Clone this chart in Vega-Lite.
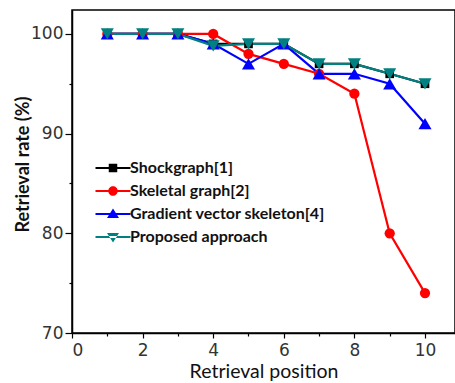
{
  "$schema": "https://vega.github.io/schema/vega-lite/v6.json",
  "width": 383,
  "height": 323,
  "autosize": {"type": "none"},
  "padding": {"left": 72, "top": 10, "right": 0, "bottom": 50},
  "background": "white",
  "config": {
    "view": {"stroke": "black", "strokeWidth": 1.5},
    "axis": {
      "domainColor": "black",
      "domainWidth": 1.5,
      "tickColor": "black",
      "tickWidth": 1.2,
      "grid": false,
      "labelFont": "DejaVu Sans",
      "labelFontSize": 17,
      "labelColor": "#333",
      "titleColor": "#111",
      "titleFont": "Lato"
    }
  },
  "data": {
    "values": [
      {"pos": 1, "rate": 100, "series": "Shockgraph[1]"},
      {"pos": 2, "rate": 100, "series": "Shockgraph[1]"},
      {"pos": 3, "rate": 100, "series": "Shockgraph[1]"},
      {"pos": 4, "rate": 99, "series": "Shockgraph[1]"},
      {"pos": 5, "rate": 99, "series": "Shockgraph[1]"},
      {"pos": 6, "rate": 99, "series": "Shockgraph[1]"},
      {"pos": 7, "rate": 97, "series": "Shockgraph[1]"},
      {"pos": 8, "rate": 97, "series": "Shockgraph[1]"},
      {"pos": 9, "rate": 96, "series": "Shockgraph[1]"},
      {"pos": 10, "rate": 95, "series": "Shockgraph[1]"},
      {"pos": 1, "rate": 100, "series": "Skeletal graph[2]"},
      {"pos": 2, "rate": 100, "series": "Skeletal graph[2]"},
      {"pos": 3, "rate": 100, "series": "Skeletal graph[2]"},
      {"pos": 4, "rate": 100, "series": "Skeletal graph[2]"},
      {"pos": 5, "rate": 98, "series": "Skeletal graph[2]"},
      {"pos": 6, "rate": 97, "series": "Skeletal graph[2]"},
      {"pos": 7, "rate": 96, "series": "Skeletal graph[2]"},
      {"pos": 8, "rate": 94, "series": "Skeletal graph[2]"},
      {"pos": 9, "rate": 80, "series": "Skeletal graph[2]"},
      {"pos": 10, "rate": 74, "series": "Skeletal graph[2]"},
      {"pos": 1, "rate": 100, "series": "Gradient vector skeleton[4]"},
      {"pos": 2, "rate": 100, "series": "Gradient vector skeleton[4]"},
      {"pos": 3, "rate": 100, "series": "Gradient vector skeleton[4]"},
      {"pos": 4, "rate": 99, "series": "Gradient vector skeleton[4]"},
      {"pos": 5, "rate": 97, "series": "Gradient vector skeleton[4]"},
      {"pos": 6, "rate": 99, "series": "Gradient vector skeleton[4]"},
      {"pos": 7, "rate": 96, "series": "Gradient vector skeleton[4]"},
      {"pos": 8, "rate": 96, "series": "Gradient vector skeleton[4]"},
      {"pos": 9, "rate": 95, "series": "Gradient vector skeleton[4]"},
      {"pos": 10, "rate": 91, "series": "Gradient vector skeleton[4]"},
      {"pos": 1, "rate": 100, "series": "Proposed approach"},
      {"pos": 2, "rate": 100, "series": "Proposed approach"},
      {"pos": 3, "rate": 100, "series": "Proposed approach"},
      {"pos": 4, "rate": 98.8, "series": "Proposed approach"},
      {"pos": 5, "rate": 99, "series": "Proposed approach"},
      {"pos": 6, "rate": 99, "series": "Proposed approach"},
      {"pos": 7, "rate": 97, "series": "Proposed approach"},
      {"pos": 8, "rate": 97, "series": "Proposed approach"},
      {"pos": 9, "rate": 96, "series": "Proposed approach"},
      {"pos": 10, "rate": 95, "series": "Proposed approach"}
    ]
  },
  "encoding": {
    "x": {
      "field": "pos",
      "type": "quantitative",
      "scale": {"domain": [0, 10.85], "nice": false},
      "axis": {
        "title": "Retrieval position",
        "titleFontSize": 19.5,
        "titleFontWeight": "normal",
        "titlePadding": 4,
        "values": [0, 1, 2, 3, 4, 5, 6, 7, 8, 9, 10],
        "labelExpr": "datum.value % 2 == 0 ? datum.label : ''",
        "tickSize": {"condition": {"test": "datum.value % 2 == 1", "value": 3}, "value": 5},
        "labelPadding": 4
      }
    },
    "y": {
      "field": "rate",
      "type": "quantitative",
      "scale": {"domain": [70, 102.4], "nice": false, "zero": false},
      "axis": {
        "title": "Retrieval rate (%)",
        "titleFontSize": 18,
        "titleFontWeight": "bold",
        "titleX": -40,
        "titleY": 154,
        "values": [70, 75, 80, 85, 90, 95, 100],
        "labelExpr": "datum.value % 10 == 0 ? datum.label : ''",
        "tickSize": {"condition": {"test": "datum.value % 10 != 0", "value": 3}, "value": 7},
        "labelPadding": 2
      }
    }
  },
  "layer": [
    {
      "mark": {"type": "line", "strokeWidth": 2.2},
      "encoding": {
        "color": {
          "field": "series",
          "type": "nominal",
          "scale": {
            "domain": ["Shockgraph[1]", "Skeletal graph[2]", "Gradient vector skeleton[4]", "Proposed approach"],
            "range": ["#000000", "#ff0000", "#0000ff", "#008080"]
          },
          "legend": null
        }
      }
    },
    {
      "transform": [{"filter": "datum.series == 'Shockgraph[1]'"}],
      "mark": {"type": "point", "filled": true, "opacity": 1, "shape": "square", "size": 75, "color": "#000000"}
    },
    {
      "transform": [{"filter": "datum.series == 'Skeletal graph[2]'"}],
      "mark": {"type": "point", "filled": true, "opacity": 1, "shape": "circle", "size": 105, "color": "#ff0000"}
    },
    {
      "transform": [{"filter": "datum.series == 'Gradient vector skeleton[4]'"}],
      "mark": {"type": "point", "filled": true, "opacity": 1, "shape": "triangle-up", "size": 170, "color": "#0000ff"}
    },
    {
      "transform": [{"filter": "datum.series == 'Proposed approach'"}],
      "mark": {"type": "point", "filled": true, "opacity": 1, "shape": "triangle-down", "size": 170, "color": "#008080"}
    },
    {
      "transform": [{"filter": "false"}],
      "mark": {"type": "point", "filled": true, "opacity": 1},
      "encoding": {
        "color": {
          "field": "series",
          "type": "nominal",
          "scale": {
            "domain": ["Shockgraph[1]", "Skeletal graph[2]", "Gradient vector skeleton[4]", "Proposed approach"],
            "range": ["#000000", "#ff0000", "#0000ff", "#008080"]
          },
          "legend": {
            "title": null,
            "orient": "none",
            "legendX": 33,
            "legendY": 150,
            "padding": 0,
            "symbolSize": 100,
            "symbolOpacity": 1,
            "symbolStrokeWidth": 0,
            "labelFont": "Lato",
            "labelFontWeight": "bold",
            "labelFontSize": 16,
            "labelColor": "#111",
            "labelOffset": 9,
            "labelLimit": 400,
            "rowPadding": 7
          }
        },
        "shape": {
          "field": "series",
          "type": "nominal",
          "scale": {
            "domain": ["Shockgraph[1]", "Skeletal graph[2]", "Gradient vector skeleton[4]", "Proposed approach"],
            "range": [
              "M-3.5,-0.2H3.5V0.2H-3.5Z M-0.85,-0.85H0.85V0.85H-0.85Z",
              "M-3.5,-0.2H3.5V0.2H-3.5Z M0.95,0A0.95,0.95 0 1,1 -0.95,0A0.95,0.95 0 1,1 0.95,0Z",
              "M-3.5,-0.2H3.5V0.2H-3.5Z M0,-1.1L1.2,0.8H-1.2Z",
              "M-3.5,-0.2H3.5V0.2H-3.5Z M0,1.1L1.2,-0.8H-1.2Z"
            ]
          },
          "legend": {
            "title": null,
            "orient": "none",
            "legendX": 33,
            "legendY": 150,
            "padding": 0,
            "symbolSize": 100,
            "symbolOpacity": 1,
            "symbolStrokeWidth": 0,
            "labelFont": "Lato",
            "labelFontWeight": "bold",
            "labelFontSize": 16,
            "labelColor": "#111",
            "labelOffset": 9,
            "labelLimit": 400,
            "rowPadding": 7
          }
        }
      }
    }
  ],
  "resolve": {"scale": {"color": "independent", "shape": "independent"}}
}
